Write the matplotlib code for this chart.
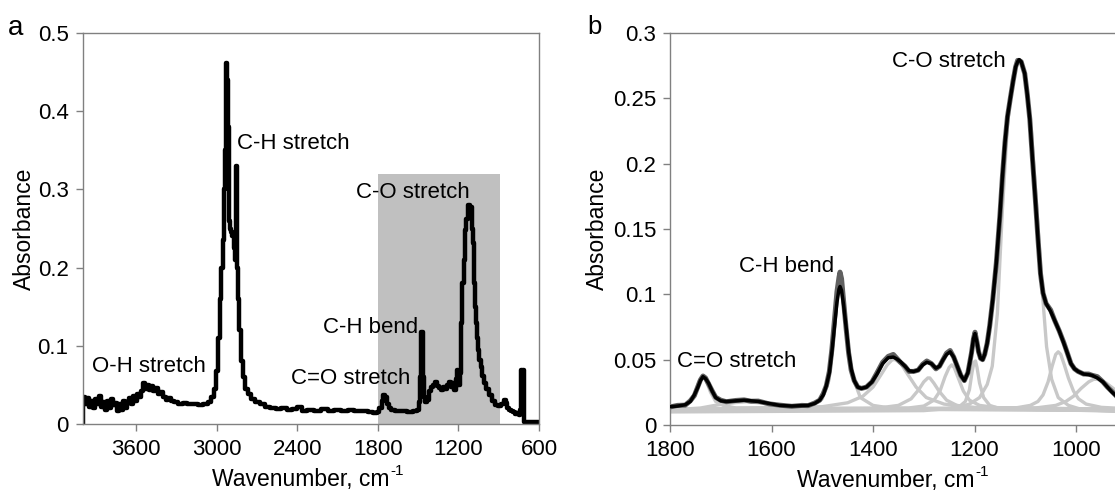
import matplotlib
matplotlib.use("Agg")
import matplotlib.pyplot as plt
from matplotlib.patches import Rectangle
from matplotlib.ticker import FuncFormatter

plt.rcParams['font.family'] = ['Liberation Sans', 'DejaVu Sans']

# ---- panel a: full FTIR spectrum ----
wn_a = [4000, 4000, 3990, 3975, 3960, 3945, 3930, 3915, 3900, 3885, 3870, 3855, 3840,
        3825, 3810, 3795, 3780, 3765, 3750, 3735, 3720, 3705, 3690, 3675, 3660, 3645,
        3630, 3615, 3600, 3585, 3570, 3555, 3540, 3525, 3510, 3495, 3480, 3465, 3450,
        3430, 3410, 3390, 3370, 3350, 3330, 3300, 3270, 3240, 3200, 3160, 3120, 3080,
        3050, 3030, 3015, 3000, 2985, 2970, 2960, 2950, 2940, 2932, 2926, 2920, 2914,
        2908, 2900, 2890, 2880, 2870, 2860, 2855, 2850, 2845, 2838, 2828, 2815, 2800,
        2780, 2760, 2730, 2700, 2660, 2620, 2580, 2540, 2500, 2460, 2420, 2380, 2350,
        2300, 2250, 2200, 2150, 2100, 2050, 2000, 1950, 1900, 1850, 1820, 1800, 1780,
        1765, 1752, 1740, 1728, 1712, 1690, 1650, 1600, 1560, 1520, 1500, 1490, 1482,
        1476, 1470, 1464, 1458, 1450, 1442, 1430, 1415, 1400, 1385, 1370, 1355, 1340,
        1325, 1310, 1295, 1280, 1265, 1250, 1238, 1226, 1215, 1205, 1195, 1185, 1176,
        1165, 1155, 1145, 1135, 1126, 1116, 1108, 1101, 1095, 1091, 1084, 1077, 1070,
        1064, 1058, 1052, 1040, 1027, 1015, 1002, 985, 965, 940, 915, 890, 870, 853,
        840, 830, 816, 800, 785, 770, 754, 745, 735, 729, 722, 717, 712, 705, 697, 600]
abs_a = [0.0, 0.030, 0.034, 0.026, 0.033, 0.022, 0.030, 0.020, 0.032, 0.025, 0.036, 0.022, 0.028,
         0.018, 0.030, 0.021, 0.032, 0.024, 0.027, 0.016, 0.026, 0.018, 0.030, 0.020, 0.028, 0.033,
         0.026, 0.036, 0.030, 0.038, 0.034, 0.042, 0.053, 0.045, 0.050, 0.044, 0.049, 0.042, 0.046,
         0.038, 0.041, 0.034, 0.031, 0.033, 0.029, 0.028, 0.026, 0.027, 0.025, 0.026, 0.024, 0.026,
         0.028, 0.035, 0.045, 0.068, 0.110, 0.160, 0.200, 0.235, 0.300, 0.350, 0.462, 0.440, 0.380,
         0.260, 0.250, 0.245, 0.240, 0.225, 0.210, 0.330, 0.330, 0.200, 0.160, 0.120, 0.080, 0.060,
         0.045, 0.038, 0.032, 0.028, 0.025, 0.022, 0.020, 0.019, 0.020, 0.018, 0.019, 0.022, 0.017,
         0.018, 0.017, 0.019, 0.017, 0.018, 0.017, 0.018, 0.016, 0.017, 0.015, 0.014, 0.015, 0.020,
         0.030, 0.037, 0.035, 0.026, 0.020, 0.018, 0.017, 0.016, 0.015, 0.016, 0.018, 0.028, 0.060,
         0.118, 0.118, 0.100, 0.060, 0.035, 0.028, 0.031, 0.042, 0.047, 0.050, 0.054, 0.048, 0.046,
         0.044, 0.047, 0.045, 0.050, 0.054, 0.047, 0.052, 0.044, 0.058, 0.069, 0.050, 0.065, 0.129,
         0.180, 0.210, 0.248, 0.262, 0.280, 0.280, 0.272, 0.278, 0.250, 0.231, 0.200, 0.180, 0.150,
         0.129, 0.110, 0.095, 0.082, 0.073, 0.062, 0.052, 0.045, 0.037, 0.030, 0.024, 0.023, 0.026, 0.031,
         0.027, 0.020, 0.018, 0.016, 0.015, 0.013, 0.014, 0.012, 0.018, 0.069, 0.050, 0.069, 0.020,
         0.003, 0.002, 0.002]
ticks_a = [3600, 3000, 2400, 1800, 1200, 600]
yticks_a = [0, 0.1, 0.2, 0.3, 0.4, 0.5]
zoom_band = (1800, 890, 0.32)   # region shown in panel b

# ---- panel b: 1800-900 region with band fit ----
wn_b = [1800, 1785, 1770, 1760, 1752, 1745, 1740, 1735, 1730, 1724, 1717, 1710, 1700, 1689,
        1670, 1654, 1640, 1626, 1605, 1584, 1560, 1540, 1528, 1515, 1505, 1498, 1492, 1486,
        1481, 1476, 1471, 1467, 1465, 1462, 1458, 1453, 1448, 1443, 1437, 1430, 1423, 1413,
        1402, 1392, 1381, 1370, 1360, 1353, 1346, 1337, 1329, 1320, 1311, 1302, 1294, 1285,
        1276, 1269, 1262, 1255, 1248, 1241, 1234, 1227, 1220, 1213, 1206, 1202, 1199, 1195,
        1192, 1188, 1184, 1180, 1175, 1170, 1164, 1157, 1150, 1145, 1140, 1135, 1129, 1124,
        1119, 1115, 1112, 1108, 1101, 1096, 1091, 1086, 1080, 1075, 1070, 1065, 1059, 1050,
        1042, 1033, 1024, 1017, 1010, 1003, 996, 985, 975, 968, 958, 947, 938, 930, 920, 900]
fit_b = [0.0140, 0.0145, 0.0155, 0.018, 0.023, 0.029, 0.034, 0.037, 0.0355, 0.032, 0.026, 0.021,
         0.0185, 0.018, 0.0185, 0.019, 0.0185, 0.018, 0.0165, 0.015, 0.0145, 0.0148, 0.015, 0.0165,
         0.019, 0.023, 0.030, 0.040, 0.056, 0.075, 0.094, 0.104, 0.106, 0.103, 0.092, 0.075, 0.056,
         0.043, 0.034, 0.029, 0.028, 0.029, 0.033, 0.039, 0.047, 0.0515, 0.052, 0.0505, 0.0485,
         0.045, 0.0415, 0.041, 0.042, 0.046, 0.048, 0.047, 0.0435, 0.045, 0.050, 0.054, 0.056,
         0.052, 0.045, 0.038, 0.034, 0.040, 0.055, 0.066, 0.070, 0.063, 0.056, 0.051, 0.050, 0.054,
         0.0626, 0.076, 0.096, 0.124, 0.160, 0.190, 0.216, 0.236, 0.251, 0.263, 0.274, 0.278,
         0.2796, 0.278, 0.269, 0.253, 0.234, 0.205, 0.172, 0.143, 0.116, 0.101, 0.093, 0.087,
         0.080, 0.072, 0.0626, 0.055, 0.047, 0.043, 0.041, 0.039, 0.0385, 0.038, 0.036, 0.033,
         0.029, 0.0255, 0.022, 0.018]
raw_b = [0.0138, 0.0150, 0.0152, 0.0185, 0.0225, 0.0295, 0.0345, 0.0375, 0.0360, 0.0315, 0.0262, 0.0212,
         0.0190, 0.0178, 0.0188, 0.0192, 0.0182, 0.0183, 0.0162, 0.0152, 0.0143, 0.0150, 0.0148, 0.0168,
         0.019, 0.024, 0.030, 0.041, 0.058, 0.080, 0.102, 0.113, 0.117, 0.112, 0.095, 0.074, 0.055,
         0.042, 0.034, 0.029, 0.028, 0.029, 0.033, 0.040, 0.048, 0.0525, 0.054, 0.0510, 0.0480,
         0.045, 0.0410, 0.041, 0.042, 0.0465, 0.049, 0.047, 0.0430, 0.045, 0.050, 0.055, 0.057,
         0.052, 0.045, 0.038, 0.034, 0.040, 0.055, 0.066, 0.071, 0.063, 0.056, 0.051, 0.050, 0.054,
         0.0626, 0.076, 0.096, 0.124, 0.160, 0.190, 0.216, 0.236, 0.251, 0.263, 0.274, 0.279,
         0.2790, 0.278, 0.269, 0.253, 0.234, 0.205, 0.172, 0.143, 0.116, 0.101, 0.093, 0.088,
         0.080, 0.072, 0.0630, 0.055, 0.047, 0.043, 0.041, 0.039, 0.0390, 0.038, 0.037, 0.033,
         0.029, 0.0260, 0.022, 0.018]

# fitted component bands (wavenumber, absorbance)
band_1735 = ([1800, 1775, 1760, 1750, 1743, 1738, 1735, 1732, 1727, 1720, 1710, 1695, 1670, 900],
             [0.0125, 0.014, 0.018, 0.025, 0.033, 0.036, 0.037, 0.036, 0.032, 0.025, 0.018, 0.015, 0.013, 0.012])
band_1650 = ([1800, 1740, 1700, 1670, 1650, 1630, 1600, 1560, 1500, 900],
             [0.0115, 0.013, 0.0158, 0.0172, 0.0178, 0.0172, 0.0158, 0.0138, 0.0125, 0.0115])
band_1465 = ([1800, 1560, 1520, 1500, 1487, 1478, 1471, 1467, 1465, 1462, 1458, 1450, 1440, 1425, 1400, 1350, 900],
             [0.011, 0.0125, 0.015, 0.020, 0.034, 0.064, 0.099, 0.112, 0.116, 0.112, 0.097, 0.064, 0.037, 0.021, 0.015, 0.012, 0.011])
band_1360 = ([1800, 1500, 1450, 1420, 1400, 1385, 1372, 1362, 1356, 1345, 1332, 1315, 1295, 1260, 1200, 900],
             [0.012, 0.014, 0.017, 0.022, 0.029, 0.038, 0.046, 0.050, 0.050, 0.047, 0.039, 0.029, 0.021, 0.016, 0.0135, 0.012])
band_1290 = ([1800, 1400, 1350, 1325, 1310, 1300, 1292, 1288, 1280, 1270, 1255, 1235, 1200, 900],
             [0.011, 0.0125, 0.015, 0.020, 0.027, 0.033, 0.036, 0.036, 0.032, 0.026, 0.019, 0.015, 0.0125, 0.011])
band_1245 = ([1800, 1330, 1300, 1280, 1268, 1258, 1250, 1245, 1240, 1232, 1222, 1210, 1190, 1150, 900],
             [0.012, 0.013, 0.0145, 0.019, 0.026, 0.037, 0.044, 0.046, 0.044, 0.036, 0.026, 0.019, 0.015, 0.013, 0.012])
band_1200 = ([1800, 1260, 1230, 1218, 1210, 1205, 1201, 1198, 1195, 1190, 1182, 1170, 1150, 900],
             [0.0105, 0.012, 0.014, 0.018, 0.027, 0.040, 0.048, 0.049, 0.044, 0.032, 0.021, 0.015, 0.0125, 0.0105])
band_1112 = ([1800, 1300, 1240, 1210, 1190, 1175, 1165, 1155, 1145, 1135, 1125, 1118, 1112, 1106,
              1098, 1088, 1078, 1068, 1058, 1048, 1035, 1015, 990, 950, 900],
             [0.010, 0.011, 0.013, 0.016, 0.021, 0.031, 0.045, 0.085, 0.165, 0.230, 0.265, 0.276, 0.278, 0.276,
              0.262, 0.225, 0.170, 0.110, 0.060, 0.035, 0.021, 0.015, 0.012, 0.011, 0.010])
band_1035 = ([1800, 1120, 1090, 1075, 1065, 1055, 1047, 1040, 1035, 1030, 1023, 1015, 1005, 995, 980, 950, 900],
             [0.012, 0.013, 0.015, 0.018, 0.023, 0.033, 0.045, 0.054, 0.056, 0.054, 0.046, 0.036, 0.026, 0.020, 0.016, 0.0135, 0.0125])
band_960 = ([1800, 1080, 1040, 1020, 1005, 990, 975, 965, 958, 950, 940, 930, 920, 900],
            [0.0115, 0.013, 0.015, 0.018, 0.022, 0.028, 0.033, 0.035, 0.035, 0.034, 0.032, 0.029, 0.026, 0.021])
bands = [band_1735, band_1650, band_1465, band_1360, band_1290,
         band_1245, band_1200, band_1112, band_1035, band_960]
ticks_b = [1800, 1600, 1400, 1200, 1000]
yticks_b = [0, 0.05, 0.1, 0.15, 0.2, 0.25, 0.3]

W, H = 1115, 491
fig = plt.figure(figsize=(W / 100, H / 100), dpi=100)
axa = fig.add_axes([82.5 / W, 1 - 424 / H, 456.5 / W, 391 / H])
axb = fig.add_axes([670 / W, 1 - 425 / H, 456.75 / W, 392 / H])

spine_col = '#808080'
fmt = FuncFormatter(lambda v, p: '%g' % v)
for ax in (axa, axb):
    for s in ax.spines.values():
        s.set_color(spine_col)
        s.set_linewidth(1.0)
    ax.tick_params(direction='out', length=5, width=1, color=spine_col,
                   labelsize=16, labelcolor='black')
    ax.tick_params(axis='x', pad=6)
    ax.tick_params(axis='y', pad=5)
    ax.yaxis.set_major_formatter(fmt)


def wavenumber_label(ax, xfrac):
    ax.set_xlabel('Wavenumber, cm', fontsize=16.5)
    ax.xaxis.set_label_coords(xfrac, -0.113)
    ax.annotate('-1', xy=(1, 1), xycoords=ax.xaxis.label, xytext=(1, -2),
                textcoords='offset points', fontsize=11, ha='left', va='center')


# panel a
axa.add_patch(Rectangle((zoom_band[1], 0), zoom_band[0] - zoom_band[1], zoom_band[2],
                        facecolor='#c0c0c0', edgecolor='none', zorder=0))
axa.plot(wn_a, abs_a, color='black', lw=3.2, drawstyle='steps-mid', zorder=2)
axa.set_xlim(4000, 600)
axa.set_ylim(0, 0.5)
axa.set_xticks(ticks_a)
axa.set_yticks(yticks_a)
axa.set_ylabel('Absorbance', fontsize=16.5)
axa.yaxis.set_label_coords(-0.102, 0.5)
wavenumber_label(axa, 0.478)

ann = dict(fontsize=16, ha='center', va='center')
axa.text(3505, 0.074, 'O-H stretch', **ann)
axa.text(2430, 0.359, 'C-H stretch', **ann)
axa.text(1540, 0.296, 'C-O stretch', **ann)
axa.text(1856, 0.123, 'C-H bend', **ann)
axa.text(2006, 0.058, 'C=O stretch', **ann)

# panel b
for bx, by in bands:
    axb.plot(bx, by, color='#c8c8c8', lw=2.4, zorder=1)
axb.plot(wn_b, raw_b, color='#606060', lw=3.6, zorder=2)
axb.plot(wn_b, fit_b, color='black', lw=2.5, zorder=3)
axb.set_xlim(1800, 900)
axb.set_ylim(0, 0.3)
axb.set_xticks(ticks_b)
axb.set_yticks(yticks_b)
axb.set_ylabel('Absorbance', fontsize=16.5)
axb.yaxis.set_label_coords(-0.133, 0.5)
wavenumber_label(axb, 0.472)

axb.text(1250, 0.278, 'C-O stretch', **ann)
axb.text(1570, 0.121, 'C-H bend', **ann)
axb.text(1668, 0.0485, 'C=O stretch', **ann)

fig.text(16 / W, 1 - 28 / H, 'a', fontsize=20, ha='center', va='center')
fig.text(595 / W, 1 - 27 / H, 'b', fontsize=18.5, ha='center', va='center')

fig.savefig('out.png', dpi=100)
